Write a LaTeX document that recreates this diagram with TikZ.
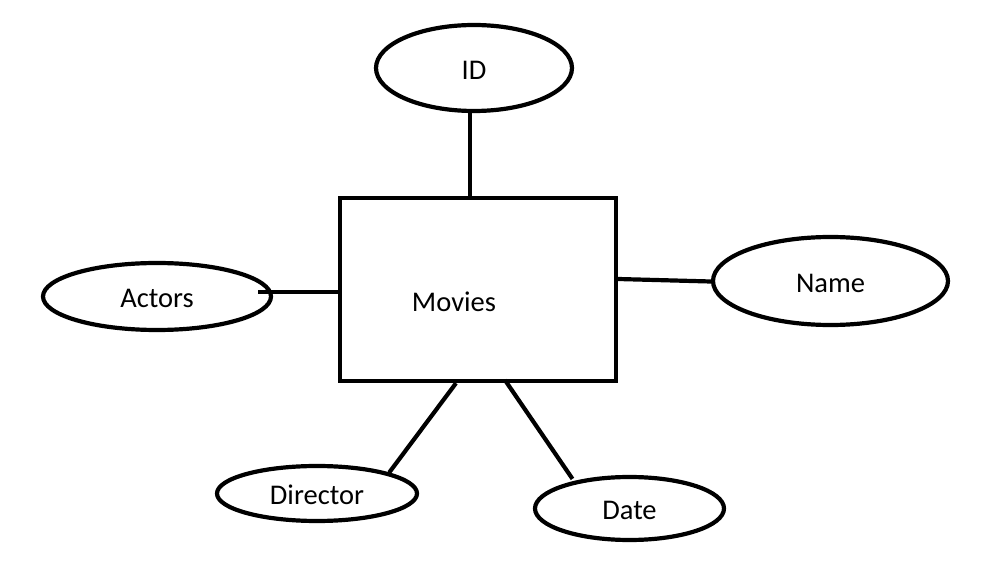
\documentclass[tikz,border=0pt]{standalone}
\usepackage{fontspec}
\setmainfont{Carlito}
\usetikzlibrary{shapes.geometric}
\begin{document}
\begin{tikzpicture}[x=1pt,y=-1pt,
  every node/.style={font=\fontsize{28.5}{34}\selectfont, text=black},
  attr/.style={ellipse, draw, line width=4.2pt, inner sep=0pt, text height=22.5pt, text depth=0pt},
  entity/.style={rectangle, draw, line width=4.3pt, inner sep=0pt},
  link/.style={line width=4.2pt}]
\useasboundingbox (0,0) rectangle (989,585);
\node[entity, minimum width=276pt, minimum height=183pt] (movies) at (478,289.5) {};
\node (movieslabel) at (454,302) {Movies};
\node[attr, minimum width=196pt, minimum height=86pt] (id) at (474,68) {ID};
\node[attr, minimum width=228pt, minimum height=67pt] (actors) at (157,296.5) {Actors};
\node[attr, minimum width=235pt, minimum height=88pt] (name) at (830.5,281) {Name};
\node[attr, minimum width=200pt, minimum height=55pt] (director) at (317,493.5) {Director};
\node[attr, minimum width=189pt, minimum height=63pt] (date) at (629.5,508.5) {Date};
\draw[link] ([xshift=-4pt]id.south) -- ([xshift=-8pt]movies.north);
\draw[link] ([xshift=-15pt,yshift=4.5pt]actors.east) -- (movies.west |- 0,292);
\draw[link] (movies.east |- 0,279) -- ([yshift=-0.5pt]name.west);
\draw[link] ([xshift=-22pt]movies.south) -- (director.north east);
\draw[link] ([xshift=27pt,yshift=3pt]movies.south) -- ([xshift=-57pt,yshift=-4pt]date.north);
\end{tikzpicture}
\end{document}
